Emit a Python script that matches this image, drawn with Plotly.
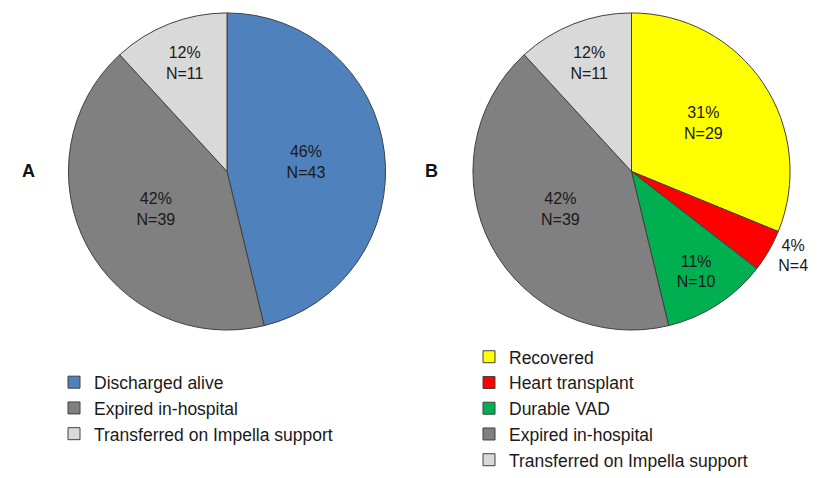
import plotly.graph_objects as go

# panel A
labels_a = ["Discharged alive", "Expired in-hospital", "Transferred on Impella support"]
values_a = [43, 39, 11]
colors_a = ["#4F81BD", "#808080", "#D9D9D9"]

# panel B
labels_b = ["Recovered", "Heart transplant", "Durable VAD", "Expired in-hospital",
            "Transferred on Impella support"]
values_b = [29, 4, 10, 39, 11]
colors_b = ["#FFFF00", "#FF0000", "#00B050", "#808080", "#D9D9D9"]
textpos_b = ["inside", "outside", "inside", "inside", "inside"]

# page has an 8px body margin, so work in page pixels and shift
OFF = 8
W, H = 826 - OFF, 478 - OFF
def px(x):
    return (x - OFF) / W
def py(y):
    return 1 - (y - OFF) / H

font_fam = "Liberation Sans, Arial, sans-serif"

fig = go.Figure()

fig.add_trace(go.Pie(
    labels=labels_a, values=values_a, sort=False, direction="clockwise", rotation=0,
    marker=dict(colors=colors_a, line=dict(color="#404040", width=1)),
    texttemplate="%{percent:.0%}<br>N=%{value}", textposition="inside",
    insidetextorientation="horizontal", textfont=dict(size=16, color="#1a1a1a"),
    domain=dict(x=[px(65), px(389)], y=[py(335), py(11)]),
    legend="legend", hoverinfo="label+value+percent",
))

# trailing space keeps panel B legend entries separate from panel A ones
fig.add_trace(go.Pie(
    labels=[l + " " for l in labels_b], values=values_b, sort=False,
    direction="clockwise", rotation=0,
    marker=dict(colors=colors_b, line=dict(color="#404040", width=1)),
    texttemplate="%{percent:.0%}<br>N=%{value}", textposition=textpos_b,
    insidetextorientation="horizontal", textfont=dict(size=16, color="#1a1a1a"),
    domain=dict(x=[px(469), px(794)], y=[py(335), py(11)]),
    legend="legend2", hoverinfo="label+value+percent",
))

leg_style = dict(font=dict(size=17.5, color="#1a1a1a", family=font_fam),
                 bgcolor="rgba(0,0,0,0)", xanchor="left", yanchor="top",
                 itemclick=False, traceorder="normal")

fig.update_layout(
    width=W, height=H,
    margin=dict(l=0, r=0, t=0, b=0),
    paper_bgcolor="white", plot_bgcolor="white",
    font=dict(family=font_fam, color="#1a1a1a"),
    legend=dict(x=px(54), y=py(370), **leg_style),
    legend2=dict(x=px(469), y=py(344), **leg_style),
    annotations=[
        dict(text="<b>A</b>", x=px(20), y=py(173), xref="paper", yref="paper",
             showarrow=False, font=dict(size=18, color="#111111")),
        dict(text="<b>B</b>", x=px(432), y=py(173), xref="paper", yref="paper",
             showarrow=False, font=dict(size=18, color="#111111")),
    ],
)

fig.write_html("out.html")
